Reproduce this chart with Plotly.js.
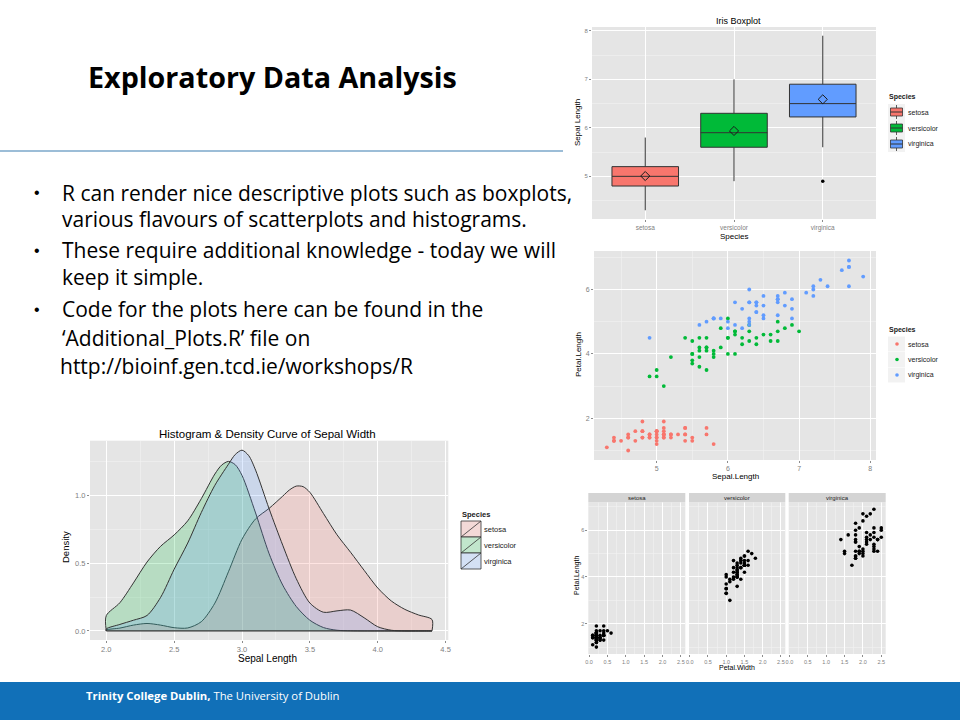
<!DOCTYPE html>
<html><head><meta charset="utf-8">
<script src="https://cdn.plot.ly/plotly-3.0.1.min.js"></script>
<style>html,body{margin:0;padding:0;background:#fff;}#chart{width:960px;height:720px;}</style>
</head><body><div id="chart"></div>
<script>
// ---------------- data ----------------
const species = ['setosa', 'versicolor', 'virginica'];
const speciesColors = ['#F8766D', '#00BA38', '#619CFF'];

// Iris boxplot (Sepal.Length) summary
const boxQ1 = [4.8, 5.6, 6.225];
const boxMedian = [5.0, 5.9, 6.5];
const boxQ3 = [5.2, 6.3, 6.9];
const boxLowerWhisker = [4.3, 4.9, 5.6];
const boxUpperWhisker = [5.8, 7.0, 7.9];
const boxMean = [5.006, 5.936, 6.588];
const outlierSpecies = ['virginica'];
const outlierValue = [4.9];

// Iris measurements
const setosaSepalLength = [5.1,4.9,4.7,4.6,5.0,5.4,4.6,5.0,4.4,4.9,5.4,4.8,4.8,4.3,5.8,5.7,5.4,5.1,5.7,5.1,5.4,5.1,4.6,5.1,4.8,5.0,5.0,5.2,5.2,4.7,4.8,5.4,5.2,5.5,4.9,5.0,5.5,4.9,4.4,5.1,5.0,4.5,4.4,5.0,5.1,4.8,5.1,4.6,5.3,5.0];
const setosaPetalLength = [1.4,1.4,1.3,1.5,1.4,1.7,1.4,1.5,1.4,1.5,1.5,1.6,1.4,1.1,1.2,1.5,1.3,1.4,1.7,1.5,1.7,1.5,1.0,1.7,1.9,1.6,1.6,1.5,1.4,1.6,1.6,1.5,1.5,1.4,1.5,1.2,1.3,1.4,1.3,1.5,1.3,1.3,1.3,1.6,1.9,1.4,1.6,1.4,1.5,1.4];
const setosaPetalWidth = [0.2,0.2,0.2,0.2,0.2,0.4,0.3,0.2,0.2,0.1,0.2,0.2,0.1,0.1,0.2,0.4,0.4,0.3,0.3,0.3,0.2,0.4,0.2,0.5,0.2,0.2,0.4,0.2,0.2,0.2,0.2,0.4,0.1,0.2,0.2,0.2,0.2,0.1,0.2,0.2,0.3,0.3,0.2,0.6,0.4,0.3,0.2,0.2,0.2,0.2];
const versicolorSepalLength = [7.0,6.4,6.9,5.5,6.5,5.7,6.3,4.9,6.6,5.2,5.0,5.9,6.0,6.1,5.6,6.7,5.6,5.8,6.2,5.6,5.9,6.1,6.3,6.1,6.4,6.6,6.8,6.7,6.0,5.7,5.5,5.5,5.8,6.0,5.4,6.0,6.7,6.3,5.6,5.5,5.5,6.1,5.8,5.0,5.6,5.7,5.7,6.2,5.1,5.7];
const versicolorPetalLength = [4.7,4.5,4.9,4.0,4.6,4.5,4.7,3.3,4.6,3.9,3.5,4.2,4.0,4.7,3.6,4.4,4.5,4.1,4.5,3.9,4.8,4.0,4.9,4.7,4.3,4.4,4.8,5.0,4.5,3.5,3.8,3.7,3.9,5.1,4.5,4.5,4.7,4.4,4.1,4.0,4.4,4.6,4.0,3.3,4.2,4.2,4.2,4.3,3.0,4.1];
const versicolorPetalWidth = [1.4,1.5,1.5,1.3,1.5,1.3,1.6,1.0,1.3,1.4,1.0,1.5,1.0,1.4,1.3,1.4,1.5,1.0,1.5,1.1,1.8,1.3,1.5,1.2,1.3,1.4,1.4,1.7,1.5,1.0,1.1,1.0,1.2,1.6,1.5,1.6,1.5,1.3,1.3,1.3,1.2,1.4,1.2,1.0,1.3,1.2,1.3,1.3,1.1,1.3];
const virginicaSepalLength = [6.3,5.8,7.1,6.3,6.5,7.6,4.9,7.3,6.7,7.2,6.5,6.4,6.8,5.7,5.8,6.4,6.5,7.7,7.7,6.0,6.9,5.6,7.7,6.3,6.7,7.2,6.2,6.1,6.4,7.2,7.4,7.9,6.4,6.3,6.1,7.7,6.3,6.4,6.0,6.9,6.7,6.9,5.8,6.8,6.7,6.7,6.3,6.5,6.2,5.9];
const virginicaPetalLength = [6.0,5.1,5.9,5.6,5.8,6.6,4.5,6.3,5.8,6.1,5.1,5.3,5.5,5.0,5.1,5.3,5.5,6.7,6.9,5.0,5.7,4.9,6.7,4.9,5.7,6.0,4.8,4.9,5.6,5.8,6.1,6.4,5.6,5.1,5.6,6.1,5.6,5.5,4.8,5.4,5.6,5.1,5.1,5.9,5.7,5.2,5.0,5.2,5.4,5.1];
const virginicaPetalWidth = [2.5,1.9,2.1,1.8,2.2,2.1,1.7,1.8,1.8,2.5,2.0,1.9,2.1,2.0,2.4,2.3,1.8,2.2,2.3,1.5,2.3,2.0,2.0,1.8,2.1,1.8,1.8,1.8,2.1,1.6,1.9,2.0,2.2,1.5,1.4,2.3,2.4,1.8,1.8,2.1,2.4,2.3,1.9,2.3,2.5,2.3,1.9,2.0,2.3,1.8];

// Density curves of Sepal.Width
const setosaDensX = [2.0,2.1,2.2,2.3,2.4,2.5,2.6,2.7,2.8,2.9,3.0,3.1,3.2,3.3,3.35,3.4,3.45,3.5,3.6,3.7,3.8,3.9,4.0,4.1,4.2,4.3,4.4];
const setosaDensY = [0.007,0.021,0.043,0.055,0.043,0.024,0.022,0.068,0.205,0.436,0.676,0.826,0.904,0.994,1.040,1.068,1.064,1.022,0.866,0.709,0.580,0.447,0.317,0.221,0.159,0.118,0.084];
const versicolorDensX = [2.0,2.1,2.2,2.3,2.4,2.5,2.6,2.7,2.8,2.85,2.9,2.95,3.0,3.1,3.2,3.3,3.4,3.5,3.6,3.7,3.8,3.9,4.0,4.1,4.2,4.3,4.4];
const versicolorDensY = [0.113,0.208,0.354,0.508,0.624,0.708,0.812,0.975,1.157,1.223,1.250,1.226,1.147,0.870,0.569,0.338,0.180,0.079,0.025,0.005,0.001,0,0,0,0,0,0];
const virginicaDensX = [2.0,2.1,2.2,2.3,2.4,2.5,2.6,2.7,2.8,2.9,2.95,3.0,3.05,3.1,3.2,3.3,3.4,3.5,3.6,3.7,3.8,3.9,4.0,4.1,4.2,4.3,4.4];
const virginicaDensY = [0.015,0.048,0.079,0.114,0.247,0.455,0.648,0.873,1.074,1.229,1.301,1.333,1.292,1.186,0.900,0.632,0.385,0.206,0.138,0.148,0.154,0.097,0.031,0.005,0,0,0];

// Tick values / labels
const boxYTicks = [5, 6, 7, 8];
const scatterXTicks = [5, 6, 7, 8];
const petalLengthTicks = [2, 4, 6];
const petalWidthTicks = [0, 0.5, 1.0, 1.5, 2.0, 2.5];
const petalWidthTickText = ['0.0', '0.5', '1.0', '1.5', '2.0', '2.5'];
const densXTicks = [2.0, 2.5, 3.0, 3.5, 4.0, 4.5];
const densXTickText = ['2.0', '2.5', '3.0', '3.5', '4.0', '4.5'];
const densYTicks = [0, 0.5, 1.0];
const densYTickText = ['0.0', '0.5', '1.0'];

// Slide text
const slideTitle = 'Exploratory Data Analysis';
const bulletLines = [
  {text: 'R can render nice descriptive plots such as boxplots,', bullet: true},
  {text: 'various flavours of scatterplots and histograms.', bullet: false},
  {text: 'These require additional knowledge - today we will', bullet: true},
  {text: 'keep it simple.', bullet: false},
  {text: 'Code for the plots here can be found in the', bullet: true},
  {text: '\u2018Additional_Plots.R\u2019 file on', bullet: false},
  {text: 'http://bioinf.gen.tcd.ie/workshops/R', bullet: false}
];
const footerBold = 'Trinity College Dublin,';
const footerRest = ' The University of Dublin';

// ---------------- helpers ----------------
const W = 960, H = 720;
const PX = x => x / W;
const PY = y => 1 - y / H;
const GG = 'Liberation Sans, Arial, sans-serif';
const SLIDE = 'Open Sans, Lato, sans-serif';
const fillA = ['rgba(248,118,109,0.2)', 'rgba(0,186,56,0.2)', 'rgba(97,156,255,0.2)'];
const OUTLINE = '#333333';

function ggAxis(extra, tickSize) {
  return Object.assign({
    showgrid: true, gridcolor: '#FFFFFF', gridwidth: 1,
    zeroline: false, showline: false,
    ticks: 'outside', ticklen: 2, tickwidth: 1, tickcolor: '#8C8C8C',
    tickfont: {family: GG, size: tickSize || 7, color: '#808080'},
    fixedrange: true
  }, extra);
}
function minorGrid(vals) {
  return {tickvals: vals, showgrid: true, gridcolor: '#F2F2F2', gridwidth: 0.6, ticks: ''};
}

const traces = [];

// ---- Boxplot ----
species.forEach((s, i) => {
  traces.push({
    type: 'box', name: s, x: [s],
    q1: [boxQ1[i]], median: [boxMedian[i]], q3: [boxQ3[i]],
    lowerfence: [boxLowerWhisker[i]], upperfence: [boxUpperWhisker[i]],
    fillcolor: speciesColors[i], line: {color: OUTLINE, width: 1},
    whiskerwidth: 0, width: 0.75, boxpoints: false, showlegend: false,
    xaxis: 'x', yaxis: 'y', hoverinfo: 'skip'
  });
});
traces.push({
  type: 'scatter', mode: 'markers', x: species, y: boxMean, showlegend: false,
  marker: {symbol: 'diamond-open', size: 7, color: '#1A1A1A', line: {width: 1}},
  xaxis: 'x', yaxis: 'y', hoverinfo: 'skip'
});
traces.push({
  type: 'scatter', mode: 'markers', x: outlierSpecies, y: outlierValue, showlegend: false,
  marker: {size: 3.5, color: '#000000'}, xaxis: 'x', yaxis: 'y', hoverinfo: 'skip'
});

// ---- Scatter Sepal.Length vs Petal.Length ----
const sepalL = [setosaSepalLength, versicolorSepalLength, virginicaSepalLength];
const petalL = [setosaPetalLength, versicolorPetalLength, virginicaPetalLength];
const petalW = [setosaPetalWidth, versicolorPetalWidth, virginicaPetalWidth];
species.forEach((s, i) => {
  traces.push({
    type: 'scatter', mode: 'markers', name: s, x: sepalL[i], y: petalL[i],
    marker: {size: 3.8, color: speciesColors[i]}, showlegend: false,
    xaxis: 'x2', yaxis: 'y2', hoverinfo: 'skip'
  });
});

// ---- Facets Petal.Width vs Petal.Length ----
const facetX = ['x3', 'x4', 'x5'];
species.forEach((s, i) => {
  traces.push({
    type: 'scatter', mode: 'markers', name: s, x: petalW[i], y: petalL[i],
    marker: {size: 3.6, color: '#000000'}, showlegend: false,
    xaxis: facetX[i], yaxis: 'y3', hoverinfo: 'skip'
  });
});

// ---- Density ----
const densX = [setosaDensX, versicolorDensX, virginicaDensX];
const densY = [setosaDensY, versicolorDensY, virginicaDensY];
species.forEach((s, i) => {
  const X = densX[i], Y = densY[i];
  const n = X.length;
  traces.push({
    type: 'scatter', mode: 'lines', name: s,
    x: [X[0]].concat(X, [X[n - 1]]),
    y: [0].concat(Y, [0]),
    fill: 'tozeroy', fillcolor: fillA[i], showlegend: false,
    line: {color: OUTLINE, width: 1, shape: 'spline', smoothing: 0.8},
    xaxis: 'x6', yaxis: 'y6', hoverinfo: 'skip'
  });
});
// baseline of the density polygons
traces.push({
  type: 'scatter', mode: 'lines', x: [setosaDensX[0], setosaDensX[setosaDensX.length - 1]], y: [0, 0],
  line: {color: OUTLINE, width: 1.2}, showlegend: false, xaxis: 'x6', yaxis: 'y6', hoverinfo: 'skip'
});

// ---------------- layout ----------------
const annotations = [];
const shapes = [];
function txt(text, x, y, size, opts) {
  annotations.push(Object.assign({
    text: text, x: PX(x), y: PY(y), xref: 'paper', yref: 'paper',
    showarrow: false, xanchor: 'center', yanchor: 'middle', borderpad: 0,
    font: {family: GG, size: size, color: '#000000'}
  }, opts || {}));
}
function rect(x0, y0, x1, y1, fill, line) {
  shapes.push({type: 'rect', xref: 'paper', yref: 'paper', x0: PX(x0), x1: PX(x1), y0: PY(y1), y1: PY(y0),
    fillcolor: fill, line: line || {width: 0}});
}
function seg(x0, y0, x1, y1, color, w) {
  shapes.push({type: 'line', xref: 'paper', yref: 'paper', x0: PX(x0), x1: PX(x1), y0: PY(y0), y1: PY(y1),
    line: {color: color, width: w}});
}

// slide chrome
rect(0, 682, 960, 720, '#1170B8');
seg(0, 151, 563, 151, '#3A7DB0', 1.2);
txt('<b>' + slideTitle + '</b>', 87, 77, 28.7, {xanchor: 'left', font: {family: SLIDE, size: 28.7, color: '#000'}});
const lineY = [193, 219, 250, 277, 309, 338, 366];
bulletLines.forEach((l, i) => {
  txt(l.text, i === 6 ? 59 : 61, lineY[i], 21, {xanchor: 'left', font: {family: SLIDE, size: 21, color: '#000'}});
  if (l.bullet) txt('\u2022', 37, lineY[i], 16, {font: {family: 'Liberation Sans', size: 16, color: '#000'}});
});
txt('<b>' + footerBold + '</b>' + footerRest, 85, 695, 11.3, {xanchor: 'left', font: {family: SLIDE, size: 11.3, color: '#FFFFFF'}});

// boxplot texts
txt('Iris Boxplot', 738, 21, 9);
txt('Sepal Length', 577, 123, 8, {textangle: -90});
txt('Species', 734, 237, 8);
// scatter texts
txt('Sepal.Length', 735, 476, 8);
txt('Petal.Length', 578, 355, 8, {textangle: -90});
// facets
txt('Petal.Width', 737, 667, 7);
txt('Petal.Length', 577, 576, 7, {textangle: -90});
species.forEach((s, i) => {
  shapes.push({type: 'rect', xref: facetX[i] + ' domain', x0: 0, x1: 1, yref: 'paper', y0: PY(502.3), y1: PY(493),
    fillcolor: '#D4D4D4', line: {width: 0}});
  annotations.push({text: s, xref: facetX[i] + ' domain', x: 0.5, yref: 'paper', y: PY(497.7),
    showarrow: false, xanchor: 'center', yanchor: 'middle', font: {family: GG, size: 6, color: '#1A1A1A'}});
});
// density
txt('Histogram &amp; Density Curve of Sepal Width', 267, 434, 11.5);
txt('Sepal Length', 267, 658, 10);
txt('Density', 65, 547, 9.5, {textangle: -90});

// ---- legends (ggplot style guides) ----
const LEG = {family: GG, size: 7, color: '#1A1A1A'};
// boxplot guide
txt('<b>Species</b>', 888, 97, 7, {xanchor: 'left', font: LEG});
[112, 128, 144].forEach((y, i) => {
  rect(888, y - 8, 905, y + 8, '#F2F2F2');
  seg(896.5, y - 7, 896.5, y + 7, OUTLINE, 0.8);
  rect(890.5, y - 4, 902.5, y + 4, speciesColors[i], {color: OUTLINE, width: 0.8});
  seg(890.5, y, 902.5, y, OUTLINE, 1);
  txt(species[i], 907, y, 7, {xanchor: 'left', font: LEG});
});
// scatter guide
txt('<b>Species</b>', 888, 330, 7, {xanchor: 'left', font: LEG});
[344, 359.5, 375].forEach((y, i) => {
  rect(888, y - 7.5, 905, y + 7.5, '#F2F2F2');
  shapes.push({type: 'circle', xref: 'paper', yref: 'paper', x0: PX(895.2), x1: PX(898.8), y0: PY(y + 1.8), y1: PY(y - 1.8),
    fillcolor: speciesColors[i], line: {width: 0}});
  txt(species[i], 907, y, 7, {xanchor: 'left', font: LEG});
});
// density guide
txt('<b>Species</b>', 461, 514, 7.5, {xanchor: 'left', font: {family: GG, size: 7.5, color: '#1A1A1A'}});
[[521, 537], [537, 553], [553, 569]].forEach((r, i) => {
  rect(461, r[0], 481, r[1], '#F2F2F2');
  rect(461, r[0], 481, r[1], fillA[i], {color: OUTLINE, width: 0.8});
  seg(461, r[1], 481, r[0], OUTLINE, 0.8);
  txt(species[i], 483, (r[0] + r[1]) / 2, 7.5, {xanchor: 'left', font: {family: GG, size: 7.5, color: '#1A1A1A'}});
});

const layout = {
  width: W, height: H, margin: {l: 0, r: 0, t: 0, b: 0},
  paper_bgcolor: '#FFFFFF', plot_bgcolor: '#E5E5E5',
  showlegend: false, boxmode: 'overlay',
  xaxis: ggAxis({domain: [PX(592), PX(876)], anchor: 'y', type: 'category',
    categoryorder: 'array', categoryarray: species, range: [-0.6, 2.6]}, 6.5),
  yaxis: ggAxis({domain: [PY(219), PY(27)], anchor: 'x', range: [4.12, 8.08],
    tickvals: boxYTicks, minor: minorGrid([4.5, 5.5, 6.5, 7.5])}, 6),
  xaxis2: ggAxis({domain: [PX(594), PX(876)], anchor: 'y2', range: [4.12, 8.08],
    tickvals: scatterXTicks, minor: minorGrid([4.5, 5.5, 6.5, 7.5])}, 7),
  yaxis2: ggAxis({domain: [PY(460), PY(251)], anchor: 'x2', range: [0.705, 7.195],
    tickvals: petalLengthTicks, minor: minorGrid([1, 3, 5, 7])}, 7),
  xaxis3: ggAxis({domain: [PX(588.3), PX(685.3)], anchor: 'y3', range: [-0.02, 2.62],
    tickvals: petalWidthTicks, ticktext: petalWidthTickText, minor: minorGrid([0.25, 0.75, 1.25, 1.75, 2.25])}, 5.5),
  xaxis4: ggAxis({domain: [PX(689), PX(785.3)], anchor: 'y3', range: [-0.02, 2.62],
    tickvals: petalWidthTicks, ticktext: petalWidthTickText, minor: minorGrid([0.25, 0.75, 1.25, 1.75, 2.25])}, 5.5),
  xaxis5: ggAxis({domain: [PX(788.7), PX(885.7)], anchor: 'y3', range: [-0.02, 2.62],
    tickvals: petalWidthTicks, ticktext: petalWidthTickText, minor: minorGrid([0.25, 0.75, 1.25, 1.75, 2.25])}, 5.5),
  yaxis3: ggAxis({domain: [PY(654), PY(502.3)], anchor: 'x3', range: [0.705, 7.195],
    tickvals: petalLengthTicks, minor: minorGrid([1, 3, 5, 7])}, 5.5),
  xaxis6: ggAxis({domain: [PX(90), PX(448.3)], anchor: 'y6', range: [1.88, 4.52],
    tickvals: densXTicks, ticktext: densXTickText, minor: minorGrid([2.25, 2.75, 3.25, 3.75, 4.25])}, 7.5),
  yaxis6: ggAxis({domain: [PY(640), PY(440.7)], anchor: 'x6', range: [-0.0668, 1.4028],
    tickvals: densYTicks, ticktext: densYTickText, minor: minorGrid([0.25, 0.75, 1.25])}, 7.5),
  annotations: annotations,
  shapes: shapes
};

Plotly.newPlot('chart', traces, layout, {staticPlot: true, displayModeBar: false});
</script>
</body></html>
